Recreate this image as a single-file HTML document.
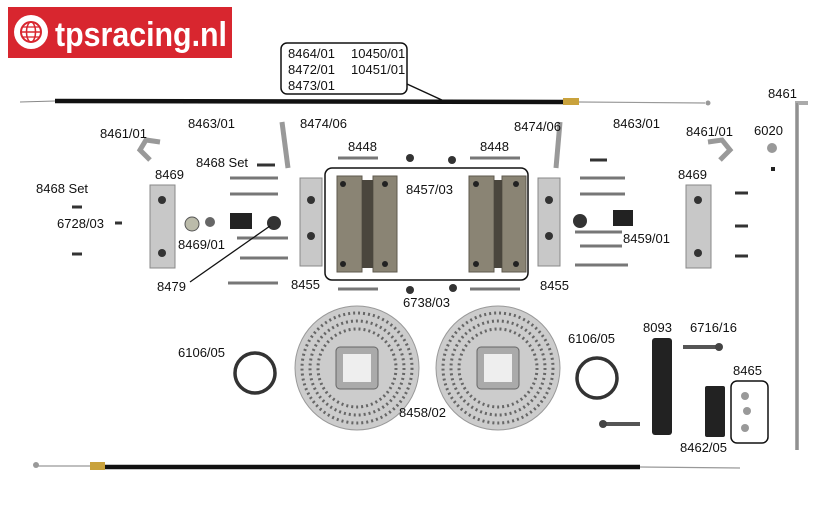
<!DOCTYPE html>
<html><head><meta charset="utf-8"><style>
html,body{margin:0;padding:0;background:#fff;}
svg{display:block}
text{font-family:"Liberation Sans",sans-serif;font-size:13px;fill:#111}
</style></head><body>
<svg width="825" height="525" viewBox="0 0 825 525" xmlns="http://www.w3.org/2000/svg">
<rect width="825" height="525" fill="#fff"/>
<!-- logo -->
<rect x="8" y="7" width="224" height="51" fill="#d8262f"/>
<circle cx="31" cy="32" r="17" fill="#fff"/>
<circle cx="31" cy="32" r="10" fill="none" stroke="#d8262f" stroke-width="2"/>
<ellipse cx="31" cy="32" rx="4.5" ry="10" fill="none" stroke="#d8262f" stroke-width="1.5"/>
<line x1="21" y1="32" x2="41" y2="32" stroke="#d8262f" stroke-width="1.5"/>
<line x1="23" y1="27" x2="39" y2="27" stroke="#d8262f" stroke-width="1.3"/>
<line x1="23" y1="37" x2="39" y2="37" stroke="#d8262f" stroke-width="1.3"/>
<text x="55" y="46" textLength="172" lengthAdjust="spacingAndGlyphs" style="font-size:34px;font-weight:bold;fill:#fff">tpsracing.nl</text>
<!-- label box -->
<rect x="281" y="43" width="126" height="51" rx="6" fill="#fff" stroke="#111" stroke-width="1.5"/>
<text x="288" y="58">8464/01</text><text x="351" y="58">10450/01</text>
<text x="288" y="74">8472/01</text><text x="351" y="74">10451/01</text>
<text x="288" y="90">8473/01</text>
<line x1="407" y1="84" x2="444" y2="101" stroke="#111" stroke-width="1.5"/>
<!-- top cable -->
<line x1="20" y1="102" x2="55" y2="101" stroke="#888" stroke-width="1"/>
<line x1="55" y1="101" x2="565" y2="102" stroke="#111" stroke-width="4.5"/>
<rect x="563" y="98" width="16" height="7" fill="#c9a23c"/>
<line x1="579" y1="102" x2="705" y2="103" stroke="#999" stroke-width="1.2"/>
<circle cx="708" cy="103" r="2.5" fill="#999"/>
<!-- vertical rod -->
<path d="M808 103 L797 103 L797 450" fill="none" stroke="#aaa" stroke-width="4"/>
<path d="M797 103 L797 450" fill="none" stroke="#777" stroke-width="1"/>
<!-- bottom cable -->
<line x1="35" y1="466" x2="90" y2="466" stroke="#999" stroke-width="1.2"/>
<circle cx="36" cy="465" r="3" fill="#999"/>
<rect x="90" y="462" width="15" height="8" fill="#c9a23c"/>
<line x1="105" y1="467" x2="640" y2="467" stroke="#111" stroke-width="4.5"/>
<line x1="640" y1="467" x2="740" y2="468" stroke="#999" stroke-width="1.2"/>
<!-- pads box -->
<rect x="325" y="168" width="203" height="112" rx="7" fill="none" stroke="#111" stroke-width="1.5"/>
<g fill="#8a8474" stroke="#5f5a4e">
<rect x="337" y="176" width="25" height="96"/><rect x="373" y="176" width="24" height="96"/>
<rect x="469" y="176" width="25" height="96"/><rect x="502" y="176" width="24" height="96"/>
</g>
<rect x="362" y="180" width="11" height="88" fill="#4a463d"/>
<rect x="494" y="180" width="8" height="88" fill="#4a463d"/>
<g fill="#222">
<circle cx="343" cy="184" r="3"/><circle cx="343" cy="264" r="3"/><circle cx="385" cy="184" r="3"/><circle cx="385" cy="264" r="3"/>
<circle cx="476" cy="184" r="3"/><circle cx="476" cy="264" r="3"/><circle cx="516" cy="184" r="3"/><circle cx="516" cy="264" r="3"/>
</g>
<!-- brackets 8455 -->
<g fill="#c8c8c8" stroke="#888">
<rect x="300" y="178" width="22" height="88"/><rect x="538" y="178" width="22" height="88"/>
<rect x="150" y="185" width="25" height="83"/><rect x="686" y="185" width="25" height="83"/>
</g>
<g fill="#333">
<circle cx="311" cy="200" r="4"/><circle cx="311" cy="236" r="4"/><circle cx="549" cy="200" r="4"/><circle cx="549" cy="236" r="4"/>
<circle cx="162" cy="200" r="4"/><circle cx="162" cy="253" r="4"/><circle cx="698" cy="200" r="4"/><circle cx="698" cy="253" r="4"/>
</g>
<!-- pins/ axles -->
<g stroke="#777" stroke-width="3">
<line x1="338" y1="158" x2="378" y2="158"/><line x1="470" y1="158" x2="520" y2="158"/>
<line x1="338" y1="289" x2="378" y2="289"/><line x1="470" y1="289" x2="520" y2="289"/>
<line x1="230" y1="178" x2="278" y2="178"/><line x1="230" y1="194" x2="278" y2="194"/>
<line x1="580" y1="178" x2="625" y2="178"/><line x1="580" y1="194" x2="625" y2="194"/>
<line x1="240" y1="258" x2="288" y2="258"/><line x1="580" y1="246" x2="622" y2="246"/>
<line x1="228" y1="283" x2="278" y2="283"/><line x1="575" y1="265" x2="628" y2="265"/>
<line x1="237" y1="238" x2="288" y2="238"/><line x1="575" y1="232" x2="622" y2="232"/>
</g>
<g stroke="#999" stroke-width="5" fill="none">
<path d="M150 160 L140 150 L146 140 L160 142"/><path d="M720 160 L730 150 L722 140 L708 142"/>
<line x1="282" y1="122" x2="288" y2="168"/><line x1="560" y1="122" x2="556" y2="168"/>
</g>
<!-- hub parts -->
<rect x="230" y="213" width="22" height="16" fill="#222"/><rect x="613" y="210" width="20" height="16" fill="#222"/>
<circle cx="274" cy="223" r="7" fill="#333"/><circle cx="192" cy="224" r="7" fill="#bba" stroke="#555"/>
<circle cx="580" cy="221" r="7" fill="#333"/><circle cx="210" cy="222" r="5" fill="#666"/>
<circle cx="410" cy="158" r="4" fill="#333"/><circle cx="452" cy="160" r="4" fill="#333"/>
<circle cx="410" cy="290" r="4" fill="#333"/><circle cx="453" cy="288" r="4" fill="#333"/>
<circle cx="772" cy="148" r="5" fill="#999"/><rect x="771" y="167" width="4" height="4" fill="#222"/>
<g stroke="#333" stroke-width="3">
<line x1="72" y1="207" x2="82" y2="207"/><line x1="72" y1="254" x2="82" y2="254"/><line x1="115" y1="223" x2="122" y2="223"/>
<line x1="735" y1="193" x2="748" y2="193"/><line x1="735" y1="226" x2="748" y2="226"/><line x1="735" y1="256" x2="748" y2="256"/>
<line x1="257" y1="165" x2="275" y2="165"/><line x1="590" y1="160" x2="607" y2="160"/>
</g>
<line x1="190" y1="282" x2="270" y2="226" stroke="#111" stroke-width="1.3"/>
<!-- discs -->
<g>
<circle cx="357" cy="368" r="62" fill="#ccc" stroke="#999"/>
<circle cx="357" cy="368" r="55" fill="none" stroke="#666" stroke-width="3" stroke-dasharray="2 3"/>
<circle cx="357" cy="368" r="47" fill="none" stroke="#666" stroke-width="3" stroke-dasharray="2 3"/>
<circle cx="357" cy="368" r="39" fill="none" stroke="#666" stroke-width="3" stroke-dasharray="2 3"/>
<rect x="336" y="347" width="42" height="42" rx="4" fill="#aaa" stroke="#666"/>
<rect x="343" y="354" width="28" height="28" fill="#eee"/>
<circle cx="498" cy="368" r="62" fill="#ccc" stroke="#999"/>
<circle cx="498" cy="368" r="55" fill="none" stroke="#666" stroke-width="3" stroke-dasharray="2 3"/>
<circle cx="498" cy="368" r="47" fill="none" stroke="#666" stroke-width="3" stroke-dasharray="2 3"/>
<circle cx="498" cy="368" r="39" fill="none" stroke="#666" stroke-width="3" stroke-dasharray="2 3"/>
<rect x="477" y="347" width="42" height="42" rx="4" fill="#aaa" stroke="#666"/>
<rect x="484" y="354" width="28" height="28" fill="#eee"/>
</g>
<!-- rings -->
<circle cx="255" cy="373" r="20" fill="none" stroke="#333" stroke-width="3.5"/>
<circle cx="597" cy="378" r="20" fill="none" stroke="#333" stroke-width="3.5"/>
<!-- 8093 & others -->
<rect x="652" y="338" width="20" height="97" rx="3" fill="#222"/>
<rect x="705" y="386" width="20" height="51" rx="2" fill="#222"/>
<line x1="683" y1="347" x2="718" y2="347" stroke="#555" stroke-width="4"/>
<circle cx="719" cy="347" r="4" fill="#444"/>
<line x1="604" y1="424" x2="640" y2="424" stroke="#555" stroke-width="4"/>
<circle cx="603" cy="424" r="4" fill="#444"/>
<rect x="731" y="381" width="37" height="62" rx="6" fill="none" stroke="#111" stroke-width="1.5"/>
<g fill="#999"><circle cx="745" cy="396" r="4"/><circle cx="747" cy="411" r="4"/><circle cx="745" cy="428" r="4"/></g>
<!-- labels -->
<text x="100" y="138">8461/01</text>
<text x="188" y="128">8463/01</text>
<text x="300" y="128">8474/06</text>
<text x="196" y="167">8468 Set</text>
<text x="348" y="151">8448</text>
<text x="480" y="151">8448</text>
<text x="514" y="131">8474/06</text>
<text x="613" y="128">8463/01</text>
<text x="686" y="136">8461/01</text>
<text x="768" y="98">8461</text>
<text x="754" y="135">6020</text>
<text x="155" y="179">8469</text>
<text x="678" y="179">8469</text>
<text x="36" y="193">8468 Set</text>
<text x="406" y="194">8457/03</text>
<text x="57" y="228">6728/03</text>
<text x="178" y="249">8469/01</text>
<text x="623" y="243">8459/01</text>
<text x="157" y="291">8479</text>
<text x="291" y="289">8455</text>
<text x="540" y="290">8455</text>
<text x="403" y="307">6738/03</text>
<text x="178" y="357">6106/05</text>
<text x="568" y="343">6106/05</text>
<text x="643" y="332">8093</text>
<text x="690" y="332">6716/16</text>
<text x="733" y="375">8465</text>
<text x="399" y="417">8458/02</text>
<text x="680" y="452">8462/05</text>
</svg>
</body></html>
